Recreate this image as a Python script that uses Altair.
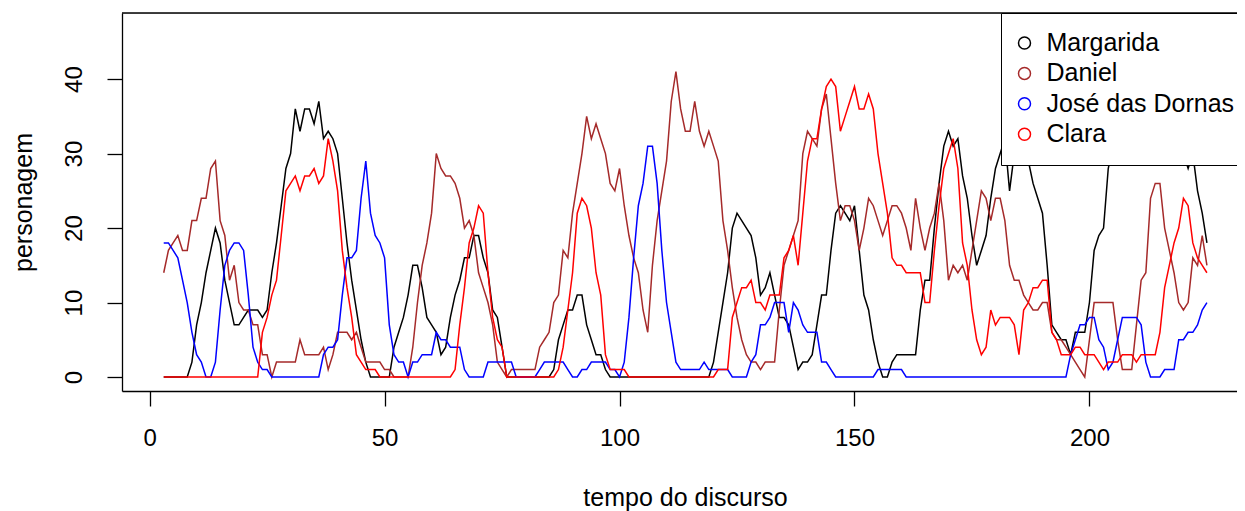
import altair as alt
import pandas as pd

tempo = list(range(3, 226))

margarida = [
    0, 0, 0, 0, 0, 0, 2, 7, 10, 14,
    17, 20, 18, 13, 10, 7, 7, 8, 9, 9,
    9, 8, 9, 14, 18, 23, 28, 30, 36, 33,
    36, 36, 34, 37, 32, 33, 32, 30, 24, 18,
    13, 9, 5, 2, 0, 0, 0, 0, 0, 4,
    6, 8, 11, 15, 15, 12, 8, 7, 6, 3,
    4, 8, 11, 13, 16, 16, 19, 19, 16, 14,
    9, 8, 4, 0, 0, 0, 0, 0, 0, 0,
    0, 0, 0, 1, 5, 7, 9, 9, 11, 11,
    7, 5, 3, 3, 1, 0, 0, 0, 0, 0,
    0, 0, 0, 0, 0, 0, 0, 0, 0, 0,
    0, 0, 0, 0, 0, 0, 0, 2, 6, 10,
    14, 20, 22, 21, 20, 19, 16, 11, 12, 14,
    11, 8, 8, 7, 4, 1, 2, 2, 3, 7,
    11, 11, 17, 22, 23, 22, 21, 23, 17, 11,
    9, 5, 2, 0, 0, 2, 3, 3, 3, 3,
    3, 9, 13, 13, 20, 26, 31, 33, 31, 32,
    27, 24, 19, 15, 17, 19, 24, 28, 30, 32,
    25, 30, 32, 31, 29, 26, 24, 22, 15, 7,
    6, 5, 5, 3, 6, 6, 6, 10, 17, 19,
    20, 28, 31, 33, 34, 33, 35, 34, 32, 34,
    35, 33, 31, 32, 34, 33, 31, 30, 28, 30,
    25, 22, 18,
]

daniel = [
    14, 17, 18, 19, 17, 17, 21, 21, 24, 24,
    28, 29, 21, 19, 13, 15, 10, 9, 9, 7,
    7, 3, 3, 0, 2, 2, 2, 2, 2, 5,
    3, 3, 3, 3, 4, 1, 3, 6, 6, 6,
    5, 6, 4, 2, 2, 2, 2, 1, 1, 0,
    0, 0, 0, 4, 10, 15, 18, 22, 30, 28,
    27, 27, 26, 24, 20, 21, 19, 14, 12, 10,
    7, 2, 1, 0, 1, 1, 1, 1, 1, 1,
    4, 5, 6, 10, 11, 17, 16, 22, 26, 30,
    35, 32, 34, 32, 30, 26, 25, 28, 23, 19,
    16, 14, 9, 6, 15, 21, 25, 29, 37, 41,
    36, 33, 33, 37, 33, 31, 33, 31, 29, 21,
    17, 12, 8, 5, 3, 2, 2, 1, 2, 2,
    2, 9, 15, 17, 19, 21, 30, 33, 32, 31,
    36, 38, 32, 26, 21, 23, 23, 21, 17, 20,
    24, 23, 21, 19, 21, 23, 23, 22, 20, 17,
    24, 20, 17, 20, 22, 26, 21, 13, 15, 14,
    15, 13, 17, 21, 25, 24, 21, 24, 24, 21,
    15, 13, 13, 11, 10, 9, 9, 10, 10, 6,
    5, 5, 4, 3, 2, 1, 0, 5, 10, 10,
    10, 10, 10, 5, 1, 1, 1, 7, 13, 14,
    24, 26, 26, 20, 17, 14, 10, 9, 10, 16,
    15, 19, 15,
]

jose = [
    18, 18, 17, 16, 13, 10, 6, 3, 2, 0,
    0, 2, 9, 15, 17, 18, 18, 17, 11, 4,
    2, 1, 1, 0, 0, 0, 0, 0, 0, 0,
    0, 0, 0, 0, 3, 4, 4, 5, 11, 16,
    16, 17, 24, 29, 22, 19, 18, 16, 7, 3,
    2, 2, 0, 2, 2, 3, 3, 3, 6, 5,
    5, 4, 4, 4, 1, 0, 0, 0, 0, 2,
    2, 2, 2, 2, 2, 0, 0, 0, 0, 0,
    1, 2, 2, 2, 2, 2, 1, 0, 0, 1,
    1, 2, 2, 2, 2, 1, 1, 0, 2, 8,
    16, 23, 26, 31, 31, 26, 17, 10, 6, 2,
    1, 1, 1, 1, 1, 2, 1, 1, 1, 1,
    1, 0, 0, 0, 0, 2, 3, 7, 7, 8,
    10, 10, 10, 6, 10, 9, 7, 6, 6, 6,
    2, 2, 1, 0, 0, 0, 0, 0, 0, 0,
    0, 0, 1, 1, 1, 1, 1, 1, 0, 0,
    0, 0, 0, 0, 0, 0, 0, 0, 0, 0,
    0, 0, 0, 0, 0, 0, 0, 0, 0, 0,
    0, 0, 0, 0, 0, 0, 0, 0, 0, 0,
    0, 0, 0, 3, 5, 7, 7, 8, 8, 5,
    4, 1, 2, 5, 8, 8, 8, 8, 7, 2,
    0, 0, 0, 1, 1, 1, 5, 5, 6, 6,
    7, 9, 10,
]

clara = [
    0, 0, 0, 0, 0, 0, 0, 0, 0, 0,
    0, 0, 0, 0, 0, 0, 0, 0, 0, 0,
    0, 6, 8, 11, 13, 19, 25, 26, 27, 25,
    27, 27, 28, 26, 27, 32, 29, 25, 17, 12,
    8, 3, 2, 1, 1, 1, 0, 0, 0, 0,
    0, 0, 0, 0, 0, 0, 0, 0, 0, 0,
    0, 0, 1, 7, 12, 18, 20, 23, 22, 14,
    8, 5, 4, 0, 0, 0, 0, 0, 0, 0,
    0, 0, 0, 0, 1, 4, 9, 14, 22, 24,
    23, 20, 14, 11, 3, 1, 1, 1, 1, 0,
    0, 0, 0, 0, 0, 0, 0, 0, 0, 0,
    0, 0, 0, 0, 0, 0, 0, 0, 1, 1,
    1, 8, 10, 12, 12, 13, 10, 10, 9, 11,
    11, 11, 16, 17, 19, 15, 22, 29, 32, 32,
    36, 39, 40, 39, 33, 35, 37, 39, 36, 36,
    38, 36, 30, 26, 22, 16, 15, 15, 14, 14,
    14, 14, 10, 10, 17, 23, 28, 30, 32, 28,
    18, 15, 9, 5, 3, 4, 9, 7, 8, 8,
    8, 7, 3, 9, 10, 12, 12, 13, 13, 6,
    5, 3, 3, 3, 4, 4, 3, 3, 3, 2,
    1, 2, 2, 2, 3, 3, 3, 2, 3, 3,
    3, 3, 6, 12, 15, 18, 20, 24, 23, 18,
    16, 15, 14,
]

nomes = ["Margarida", "Daniel", "José das Dornas", "Clara"]
cores = ["black", "brown", "blue", "red"]
series = [margarida, daniel, jose, clara]

rows = []
for nome, vals in zip(nomes, series):
    for t, v in zip(tempo, vals):
        rows.append({"tempo": t, "valor": v, "nome": nome})
df = pd.DataFrame(rows)

W = 1115
H = 378
FONT = "Liberation Sans"

x_enc = alt.X(
    "tempo:Q",
    scale=alt.Scale(domain=[-5.88, 231.4], nice=False, zero=False),
    axis=alt.Axis(
        values=[0, 50, 100, 150, 200],
        title="tempo do discurso",
        grid=False,
        domainColor="black",
        domainWidth=1.3,
        tickColor="black",
        tickWidth=1.3,
        tickSize=15,
        labelFont=FONT,
        labelFontSize=24,
        labelColor="black",
        labelPadding=39.5,
        labelBaseline="alphabetic",
        labelAngle=0,
        labelFlush=False,
        titleFont=FONT,
        titleFontSize=25,
        titleFontWeight="normal",
        titleColor="black",
        titleBaseline="alphabetic",
        titleX=563,
        titleY=114,
    ),
)

y_enc = alt.Y(
    "valor:Q",
    scale=alt.Scale(domain=[-1.88, 48.88], nice=False, zero=False),
    axis=alt.Axis(
        values=[0, 10, 20, 30, 40],
        title="personagem",
        grid=False,
        domainColor="black",
        domainWidth=1.3,
        tickColor="black",
        tickWidth=1.3,
        tickSize=15,
        labelFont=FONT,
        labelFontSize=24,
        labelColor="black",
        labelAngle=270,
        labelAlign="center",
        labelBaseline="alphabetic",
        labelPadding=26,
        labelFlush=False,
        titleFont=FONT,
        titleFontSize=25,
        titleFontWeight="normal",
        titleColor="black",
        titleAngle=270,
        titleAlign="center",
        titleBaseline="alphabetic",
        titleX=-91,
        titleY=189,
    ),
)

color_enc = alt.Color(
    "nome:N",
    scale=alt.Scale(domain=nomes, range=cores),
    legend=alt.Legend(
        title=None,
        orient="none",
        legendX=879,
        legendY=0,
        fillColor="white",
        strokeColor="black",
        padding=17.5,
        rowPadding=4.4,
        symbolType="circle",
        symbolSize=144,
        symbolStrokeWidth=1.5,
        symbolOffset=-6.5,
        labelFont=FONT,
        labelFontSize=25,
        labelColor="black",
        labelOffset=9.5,
        labelLimit=400,
    ),
)

layers = []
for nome in nomes:
    layers.append(
        alt.Chart(df)
        .transform_filter(alt.datum.nome == nome)
        .mark_line(strokeWidth=1.5)
        .encode(x=x_enc, y=y_enc, color=color_enc)
    )

topo = (
    alt.Chart(pd.DataFrame({"a": [0]}))
    .mark_rule(color="black", strokeWidth=1.3)
    .encode(x=alt.value(0), x2=alt.value(W), y=alt.value(0))
)

chart = (
    alt.layer(*layers, topo)
    .properties(
        width=W,
        height=H,
        autosize=alt.AutoSizeParams(type="none"),
        padding={"left": 114, "top": 5, "right": 0, "bottom": 121},
    )
    .configure_view(stroke="transparent")
    .configure(background="white")
)

chart.save("out.html", embed_options={"renderer": "svg", "actions": False})
